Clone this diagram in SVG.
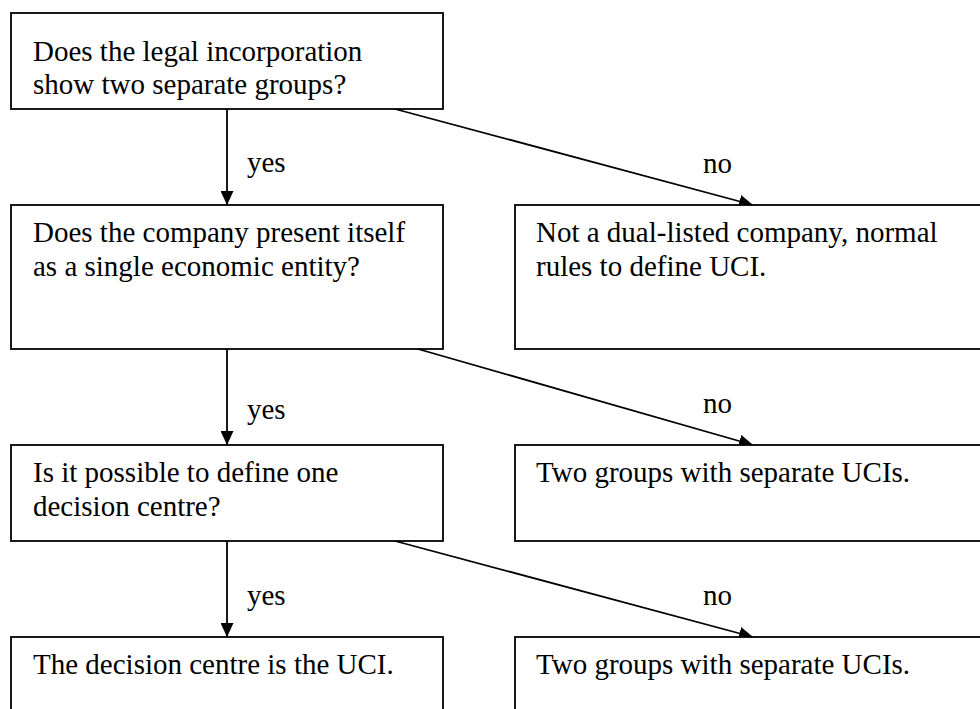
<svg xmlns="http://www.w3.org/2000/svg" width="980" height="709" viewBox="0 0 980 709">
<style>
.box{fill:#fff;stroke:#000;stroke-width:1.8}
.t{font-family:"Liberation Serif","Times New Roman",serif;font-size:29px;fill:#000}
.c{stroke:#000;stroke-width:1.8;fill:none}
</style>
<defs>
<marker id="ah" markerWidth="14" markerHeight="13" refX="14" refY="6.5" orient="auto" markerUnits="userSpaceOnUse">
<path d="M0,0 L14,6.5 L0,13 Z" fill="#000"/>
</marker>
</defs>
<rect width="980" height="709" fill="#fff"/>
<g id="connectors">
<line class="c" x1="227" y1="109" x2="227" y2="205" marker-end="url(#ah)"/>
<line class="c" x1="395" y1="109" x2="753" y2="205" marker-end="url(#ah)"/>
<line class="c" x1="227" y1="349" x2="227" y2="445" marker-end="url(#ah)"/>
<line class="c" x1="418" y1="349" x2="753" y2="445" marker-end="url(#ah)"/>
<line class="c" x1="227" y1="541" x2="227" y2="637" marker-end="url(#ah)"/>
<line class="c" x1="395" y1="541" x2="753" y2="637" marker-end="url(#ah)"/>
<text class="t" x="247" y="172">yes</text>
<text class="t" x="703" y="173">no</text>
<text class="t" x="247" y="419">yes</text>
<text class="t" x="703" y="413">no</text>
<text class="t" x="247" y="605">yes</text>
<text class="t" x="703" y="605">no</text>
</g>
<g id="q1">
<rect class="box" x="11" y="13" width="432" height="96"/>
<text class="t" x="33" y="61">Does the legal incorporation</text>
<text class="t" x="33" y="94">show two separate groups?</text>
</g>
<g id="q2">
<rect class="box" x="11" y="205" width="432" height="144"/>
<text class="t" x="33" y="242">Does the company present itself</text>
<text class="t" x="33" y="276">as a single economic entity?</text>
</g>
<g id="q3">
<rect class="box" x="11" y="445" width="432" height="96"/>
<text class="t" x="33" y="482">Is it possible to define one</text>
<text class="t" x="33" y="516">decision centre?</text>
</g>
<g id="r4">
<rect class="box" x="11" y="637" width="432" height="100"/>
<text class="t" x="33" y="674">The decision centre is the UCI.</text>
</g>
<g id="n1">
<rect class="box" x="515" y="205" width="480" height="144"/>
<text class="t" x="536" y="242">Not a dual-listed company, normal</text>
<text class="t" x="536" y="276">rules to define UCI.</text>
</g>
<g id="n2">
<rect class="box" x="515" y="445" width="480" height="96"/>
<text class="t" x="536" y="482">Two groups with separate UCIs.</text>
</g>
<g id="n3">
<rect class="box" x="515" y="637" width="480" height="100"/>
<text class="t" x="536" y="674">Two groups with separate UCIs.</text>
</g>
</svg>
